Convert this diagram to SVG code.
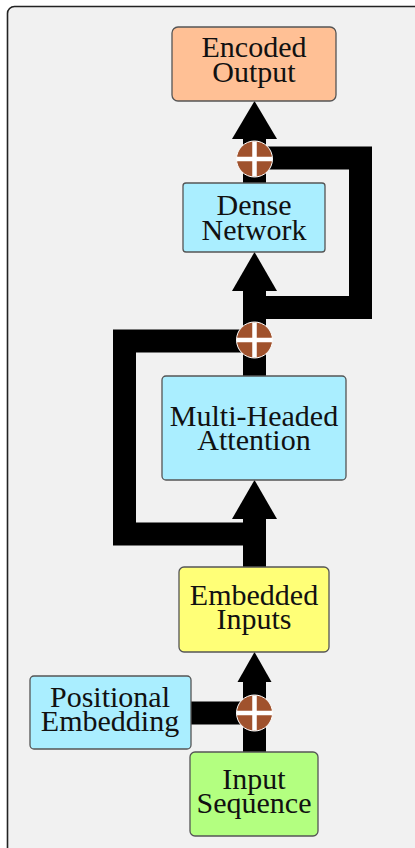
<svg xmlns="http://www.w3.org/2000/svg" width="415" height="848" viewBox="0 0 415 848">
<defs>
<style>
.box{stroke:#555;stroke-width:1.3}
.t{font-family:"Liberation Serif","Times New Roman",serif;font-size:30px;fill:#111;text-anchor:middle}
.w{fill:none;stroke:#000;stroke-width:23;stroke-linejoin:miter}
.ah{fill:#000}
.plus circle{fill:#a0522d;stroke:#fff;stroke-width:1}
.plus path{stroke:#fff;stroke-width:4.5}
</style>
</defs>
<rect x="0" y="0" width="415" height="848" fill="#fff"/>
<rect x="7.5" y="6.5" width="430" height="870" rx="7" fill="#f1f1f1" stroke="#222" stroke-width="1.6"/>
<g id="connectors">
<path class="w" d="M254.5,752 V680"/>
<path class="w" d="M191,713 H254.5"/>
<polygon class="ah" points="237.5,682 271.5,682 254.5,652"/>
<path class="w" d="M254.5,567 V517"/>
<path class="w" d="M254.5,534 H124.5 V341 H254.5"/>
<polygon class="ah" points="232,519 277,519 254.5,480"/>
<path class="w" d="M254.5,376 V289"/>
<path class="w" d="M254.5,307.5 H360.5 V158 H254.5"/>
<polygon class="ah" points="232,291 277,291 254.5,252"/>
<path class="w" d="M254.5,183 V137"/>
<polygon class="ah" points="232,139 277,139 254.5,101"/>
</g>
<g id="add1" class="plus"><circle cx="254.5" cy="159" r="18"/><path d="M237,159 H272 M254.5,141.5 V176.5"/></g>
<g id="add2" class="plus"><circle cx="254.5" cy="340" r="18"/><path d="M237,340 H272 M254.5,322.5 V357.5"/></g>
<g id="add3" class="plus"><circle cx="254.5" cy="713" r="18"/><path d="M237,713 H272 M254.5,695.5 V730.5"/></g>
<g id="encoded-output"><rect class="box" x="172" y="27" width="164" height="74" rx="6" fill="#ffc095"/><text class="t" x="254" y="57">Encoded</text><text class="t" x="254" y="82">Output</text></g>
<g id="dense-network"><rect class="box" x="183" y="183" width="142" height="69" rx="3" fill="#aaeeff"/><text class="t" x="254" y="215">Dense</text><text class="t" x="254" y="239.5">Network</text></g>
<g id="multi-headed-attention"><rect class="box" x="162" y="376" width="184" height="104" rx="4" fill="#aaeeff"/><text class="t" x="254" y="425.5">Multi-Headed</text><text class="t" x="254" y="450">Attention</text></g>
<g id="embedded-inputs"><rect class="box" x="179" y="567" width="150" height="85" rx="5" fill="#ffff77"/><text class="t" x="254" y="605">Embedded</text><text class="t" x="254" y="629">Inputs</text></g>
<g id="positional-embedding"><rect class="box" x="30" y="676" width="161" height="73" rx="4" fill="#aaeeff"/><text class="t" x="110" y="706.5">Positional</text><text class="t" x="110" y="730.5">Embedding</text></g>
<g id="input-sequence"><rect class="box" x="190" y="752" width="128" height="84" rx="5" fill="#b3ff80"/><text class="t" x="254" y="788.5">Input</text><text class="t" x="254" y="813">Sequence</text></g>
</svg>
